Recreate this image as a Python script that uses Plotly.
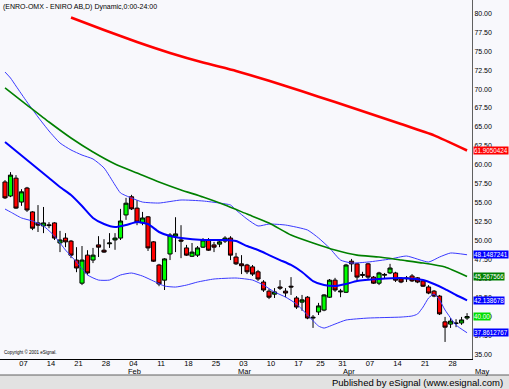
import plotly.graph_objects as go
import pandas as pd

# ---------------- data ----------------
holidays = ["2008-03-21", "2008-03-24", "2008-05-01"]
dates = [d.strftime("%Y-%m-%d") for d in pd.bdate_range("2008-01-02", "2008-05-02")
         if d.strftime("%Y-%m-%d") not in holidays]

opens = [57.75, 55.9, 58.25, 55.1, 56.95, 53.8, 52.35, 51.95, 52.1, 52.35,
         49.7, 50.35, 49.95, 47.45, 44.4, 48.1, 47.45, 49.45, 48.75, 49.6,
         50.1, 50.35, 53.4, 55.8, 54.3, 52.35, 53.15, 49.85, 46.8, 44.8,
         48.25, 50.6, 50.1, 49.05, 47.95, 48.1, 49.15, 50.1, 49.45, 49.55,
         49.95, 50.35, 47.85, 46.95, 46.8, 46.55, 45.9, 44.55, 43.35, 42.95,
         43.9, 43.35, 44.0, 42.45, 41.9, 42.55, 39.8, 40.6, 40.85, 42.55,
         44.8, 43.25, 43.2, 47.3, 46.95, 45.55, 46.95, 45.2, 44.4, 45.45,
         45.75, 45.75, 44.95, 45.1, 45.35, 45.1, 44.7, 43.9, 43.35, 42.7,
         39.3, 39.0, 39.15, 39.15, 39.8]
highs = [58.0, 59.05, 58.65, 56.8, 57.1, 53.9, 54.7, 54.45, 52.45, 52.45,
         51.3, 51.0, 50.1, 49.15, 49.3, 48.75, 49.05, 50.6, 50.2, 51.0,
         51.0, 54.2, 55.65, 56.05, 55.35, 53.8, 53.25, 49.95, 46.95, 47.7,
         51.0, 53.1, 52.05, 49.45, 49.7, 49.3, 50.35, 50.35, 49.85, 50.2,
         50.6, 50.6, 48.4, 48.1, 46.95, 46.8, 46.15, 44.8, 43.65, 43.75,
         44.8, 43.75, 45.2, 42.7, 42.85, 42.7, 40.2, 41.8, 42.95, 44.95,
         45.1, 43.65, 46.95, 47.6, 47.05, 45.9, 47.05, 45.35, 45.9, 45.75,
         46.95, 45.9, 45.2, 45.35, 45.6, 45.2, 44.8, 44.15, 43.5, 42.85,
         39.95, 39.8, 39.65, 39.95, 40.45]
lows = [55.5, 55.75, 54.2, 54.6, 53.8, 51.4, 51.15, 51.0, 51.65, 50.1,
        48.5, 49.15, 47.7, 45.85, 44.15, 45.5, 47.05, 47.85, 48.4, 49.05,
        48.8, 50.1, 52.75, 54.05, 52.05, 52.05, 48.65, 47.2, 44.0, 43.5,
        47.45, 48.5, 47.7, 48.0, 47.85, 47.85, 49.05, 48.65, 48.5, 49.15,
        49.7, 47.45, 46.8, 45.6, 45.6, 45.35, 44.7, 43.25, 42.3, 42.45,
        43.5, 42.55, 42.85, 41.0, 40.75, 39.65, 38.5, 40.2, 40.7, 42.45,
        43.25, 42.55, 43.1, 45.9, 44.8, 45.1, 44.95, 44.3, 44.15, 44.95,
        45.6, 44.55, 44.4, 44.55, 44.55, 44.4, 43.9, 42.95, 42.55, 40.2,
        36.65, 38.5, 38.6, 38.9, 39.55]
closes = [55.65, 58.65, 54.3, 56.45, 54.05, 51.65, 52.05, 52.35, 52.0, 50.35,
          50.1, 49.85, 48.1, 46.4, 47.45, 45.75, 48.1, 49.15, 48.5, 49.7,
          50.35, 52.6, 54.95, 54.2, 52.45, 53.0, 49.05, 47.3, 44.3, 47.6,
          50.75, 50.9, 49.95, 48.1, 48.5, 49.05, 50.1, 48.75, 49.15, 49.85,
          50.35, 48.1, 46.95, 46.7, 45.9, 45.6, 44.95, 43.5, 42.55, 43.25,
          43.75, 43.1, 43.9, 41.25, 42.2, 39.8, 39.9, 41.4, 42.85, 44.8,
          43.5, 43.35, 46.8, 46.95, 45.2, 45.45, 45.2, 44.4, 45.75, 45.55,
          46.4, 44.8, 44.55, 45.0, 44.7, 44.55, 44.0, 43.1, 42.7, 40.35,
          38.6, 39.4, 39.1, 39.55, 40.0]

# moving averages / bands: (trading-day number, value)
red_day = [12, 18, 24, 30, 36, 42, 48, 54, 60, 66, 72, 78, 84]
red_val = [79.45, 77.8, 76.2, 74.76, 73.5, 72.4, 71.1, 69.7, 68.3, 66.85, 65.4, 63.9, 61.905]

green_day = [0, 4, 8, 12, 16, 20, 24, 28, 32, 36, 40, 44, 48, 52, 56, 60, 64, 68, 72, 76, 80, 84]
green_val = [70.15, 67.9, 65.66, 63.55, 61.7, 60.12, 58.93, 57.74, 56.69, 55.77, 54.71,
             53.52, 52.34, 50.75, 49.7, 48.77, 48.1, 47.85, 47.45, 47.06, 46.53, 45.268]

mid_day = [0, 2, 4, 6, 8, 10, 12, 14, 16, 18, 20, 22, 24, 26, 28, 30, 32, 36, 40, 42,
           44, 46, 48, 50, 52, 54, 56, 58, 60, 62, 64, 68, 72, 76, 78, 80, 82, 84]
mid_val = [63.02, 61.83, 60.65, 59.46, 58.27, 57.08, 56.03, 54.58, 53.0, 52.2, 51.8,
           52.07, 52.47, 52.2, 51.15, 50.62, 50.36, 50.09, 50.09, 49.96, 49.3, 48.77,
           48.11, 47.45, 46.8, 45.87, 44.68, 44.15, 44.02, 44.29, 44.68, 44.95, 45.08,
           44.81, 44.29, 43.63, 42.84, 42.139]

upper_day = [0, 1, 2, 4, 6, 8, 10, 12, 14, 16, 18, 20, 21, 23, 25, 28, 32, 36, 39, 41,
             42, 44, 46, 48, 51, 55, 57, 59, 61, 63, 66, 70, 73, 77, 79, 81, 84]
upper_val = [72.25, 71.46, 70.4, 68.3, 66.32, 64.47, 62.89, 61.97, 61.3, 60.78, 59.6,
             57.35, 56.3, 55.63, 55.1, 54.97, 55.37, 55.24, 54.97, 54.71, 54.05, 52.86,
             51.94, 52.2, 52.07, 51.41, 50.36, 49.04, 47.45, 47.06, 47.19, 47.58, 47.98,
             47.19, 47.85, 48.38, 48.149]

lower_day = [0, 1, 3, 5, 7, 9, 11, 13, 15, 17, 19, 21, 23, 25, 27, 29, 31, 33, 35, 38,
             42, 45, 47, 49, 51, 53, 55, 57, 58, 60, 62, 66, 72, 74, 75, 76, 77, 78, 79,
             80, 82, 84]
lower_val = [54.18, 53.79, 53.0, 52.6, 51.94, 50.62, 48.77, 47.19, 45.48, 44.81, 44.81,
             45.48, 45.74, 45.34, 44.68, 44.02, 43.89, 44.15, 44.55, 44.95, 45.08, 44.81,
             44.15, 43.23, 42.57, 41.65, 40.2, 38.75, 38.48, 39.01, 39.54, 39.8, 39.93,
             40.07, 40.33, 41.25, 42.44, 42.97, 42.18, 40.86, 38.88, 37.861]

tick_dates = ["2008-01-07", "2008-01-14", "2008-01-21", "2008-01-28", "2008-02-04",
              "2008-02-11", "2008-02-18", "2008-02-25", "2008-03-03", "2008-03-10",
              "2008-03-17", "2008-03-25", "2008-03-31", "2008-04-07",
              "2008-04-14", "2008-04-21", "2008-04-28"]
tick_text = ["07", "14", "21", "28", "04", "11", "18", "25", "03", "10",
             "17", "25", "31", "07", "14", "21", "28"]
month_dates = ["2008-02-04", "2008-03-03", "2008-04-01"]
month_text = ["Feb", "Mar", "Apr"]

last_labels = [(61.9050424, "61.9050424", "#FF0000"),
               (48.1487241, "48.1487241", "#0000FF"),
               (45.267566, "45.267566", "#008000"),
               (42.138678, "42.138678", "#0000FF"),
               (40.00, "40.00", "#00DD00"),
               (37.8612767, "37.8612767", "#0000FF")]

# ---------------- figure ----------------
FONT = "Liberation Sans"
fig = go.Figure()

fig.add_trace(go.Candlestick(
    x=dates, open=opens, high=highs, low=lows, close=closes,
    increasing=dict(line=dict(color="#000000", width=1), fillcolor="#00FF00"),
    decreasing=dict(line=dict(color="#000000", width=1), fillcolor="#FF0000"),
    whiskerwidth=0))


def xs(days):
    return [dates[i] for i in days]


line_specs = [
    (upper_day, upper_val, "#3A3AFF", 1.0),
    (lower_day, lower_val, "#3A3AFF", 1.0),
    (green_day, green_val, "#008000", 1.6),
    (mid_day, mid_val, "#0000FF", 2.0),
    (red_day, red_val, "#FF0000", 2.6),
]
for d, v, c, w in line_specs:
    fig.add_trace(go.Scatter(x=xs(d), y=v, mode="lines",
                             line=dict(color=c, width=w, shape="spline", smoothing=0.5),
                             hoverinfo="skip"))

# keep candles on top of the lines
fig.data = fig.data[1:] + fig.data[:1]

annotations = [
    dict(x=0, y=1, xref="paper", yref="paper", xanchor="left", yanchor="top",
         text="(ENRO-OMX - ENIRO AB,D) Dynamic,0:00-24:00", showarrow=False,
         font=dict(family=FONT, size=7, color="#000000"), xshift=1, yshift=-1),
    dict(x=0, y=(359 - 352) / 359, xref="paper", yref="paper", xanchor="left", yanchor="middle",
         text="Copyright © 2001 eSignal.", showarrow=False,
         font=dict(family=FONT, size=4.5, color="#000000"), xshift=2),
    dict(x=482 / 472, y=(359 - 372) / 359, xref="paper", yref="paper", xanchor="center",
         yanchor="middle", text="May", showarrow=False,
         font=dict(family=FONT, size=7.5, color="#000000")),
    dict(x=1, y=(359 - 382) / 359, xref="paper", yref="paper", xanchor="right",
         yanchor="middle", text="Published by eSignal (www.esignal.com)", showarrow=False,
         font=dict(family=FONT, size=9.5, color="#000000"), xshift=33),
]
for md, mt in zip(month_dates, month_text):
    annotations.append(dict(x=md, y=(359 - 372) / 359, xref="x", yref="paper",
                            xanchor="center", yanchor="middle", text=mt, showarrow=False,
                            xshift=3, font=dict(family=FONT, size=7.5, color="#000000")))
for val, txt, col in last_labels:
    annotations.append(dict(x=1, y=val, xref="paper", yref="y", xanchor="left",
                            yanchor="middle", text=txt, showarrow=False, bgcolor=col,
                            borderpad=0, xshift=1,
                            font=dict(family=FONT, size=6.3, color="#FFFFFF")))

shapes = [
    dict(type="rect", xref="paper", yref="paper", x0=0, x1=509 / 472,
         y0=(359 - 389) / 359, y1=(359 - 375) / 359, fillcolor="#E2E2E2",
         line=dict(width=0), layer="below"),
    dict(type="line", xref="paper", yref="paper", x0=0, x1=509 / 472,
         y0=(359 - 375) / 359, y1=(359 - 375) / 359, line=dict(color="#606060", width=1)),
]

fig.update_layout(
    width=509, height=389,
    margin=dict(l=0, r=37, t=0, b=30, autoexpand=False),
    paper_bgcolor="#F8F8FC", plot_bgcolor="#F8F8FC",
    showlegend=False,
    boxgap=0.25, boxgroupgap=0,
    font=dict(family=FONT, size=7, color="#000000"),
    annotations=annotations, shapes=shapes,
    xaxis=dict(type="category", categoryorder="array", categoryarray=dates,
               range=[-0.91, 84.9], rangeslider=dict(visible=False),
               tickmode="array", tickvals=tick_dates, ticktext=tick_text,
               tickangle=0, automargin=False,
               showgrid=False, showline=True, linecolor="#000000", linewidth=1,
               ticks="", tickfont=dict(family=FONT, size=7.5, color="#000000"),
               ticklabelshift=2, ticklabelstandoff=-3),
    yaxis=dict(side="right", range=[34.4, 81.75], tick0=35, dtick=2.5, tickformat=".2f",
               automargin=False,
               showgrid=False, showline=True, linecolor="#606060", linewidth=1,
               zeroline=False, ticks="", tickfont=dict(family=FONT, size=7, color="#000000")),
)

fig.write_html("out.html", config={"displayModeBar": False},
               post_script="document.body.style.margin='0';document.body.style.overflow='hidden';")
